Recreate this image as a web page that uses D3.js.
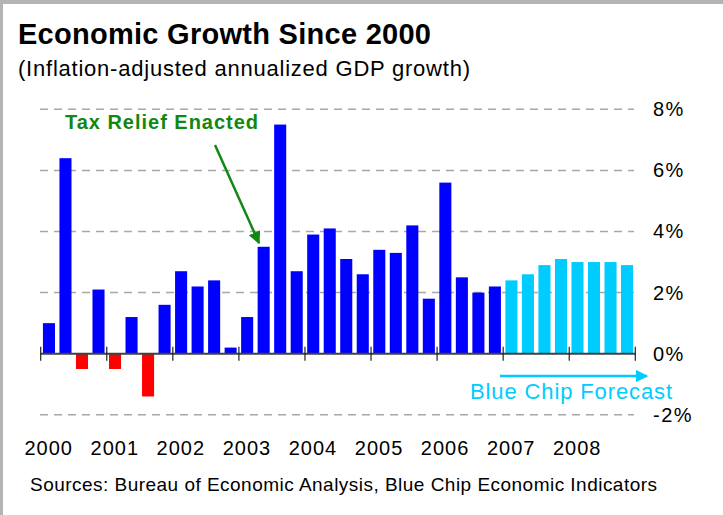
<!DOCTYPE html>
<html>
<head>
<meta charset="utf-8">
<script src="https://cdn.jsdelivr.net/npm/d3@7"></script>
<style>
  body { margin: 0; background: #fff; }
  svg { display: block; font-family: "Liberation Sans", Arial, sans-serif; }
</style>
</head>
<body>
<svg id="chart"></svg>
<script>
const years = [2000, 2001, 2002, 2003, 2004, 2005, 2006, 2007, 2008];
const quarters = years.flatMap(yr => ["Q1", "Q2", "Q3", "Q4"].map(q => yr + q));

// actual growth 2000Q1 - 2006Q4
const actual = [1.0, 6.4, -0.5, 2.1, -0.5, 1.2, -1.4, 1.6,
  2.7, 2.2, 2.4, 0.2, 1.2, 3.5, 7.5, 2.7,
  3.9, 4.1, 3.1, 2.6, 3.4, 3.3, 4.2, 1.8,
  5.6, 2.5, 2.0, 2.2];
// Blue Chip forecast 2007Q1 - 2008Q4
const forecast = [2.4, 2.6, 2.9, 3.1, 3.0, 3.0, 3.0, 2.9];

const yTicks = [-2, 0, 2, 4, 6, 8];

const W = 723, H = 515;
const svg = d3.select("#chart").attr("width", W).attr("height", H);

const bars = actual.map((v, i) => ({ q: quarters[i], v: v, fc: false }))
  .concat(forecast.map((v, i) => ({ q: quarters[actual.length + i], v: v, fc: true })));

const x = d3.scaleBand()
    .domain(quarters)
    .range([40.7, 635.3])
    .paddingInner(0.27)
    .paddingOuter(0.135);

const xYear = d3.scaleLinear()
    .domain([2000, 2009])
    .range([40.7, 635.3]);

const y = d3.scaleLinear()
    .domain([-2, 8])
    .range([414.8, 109.3]);

// frame
svg.append("rect").attr("x", 0).attr("y", 0).attr("width", W).attr("height", 4).attr("fill", "#b4b4b4");
svg.append("rect").attr("x", 0).attr("y", 0).attr("width", 3).attr("height", H).attr("fill", "#b4b4b4");

// titles
svg.append("text")
    .attr("x", 18).attr("y", 44)
    .attr("font-size", 29).attr("font-weight", "bold")
    .attr("textLength", 413)
    .text("Economic Growth Since 2000");

svg.append("text")
    .attr("x", 18).attr("y", 76)
    .attr("font-size", 22)
    .attr("textLength", 452)
    .text("(Inflation-adjusted annualized GDP growth)");

// grid
svg.append("g")
  .selectAll("line")
  .data(yTicks.filter(d => d !== 0))
  .enter().append("line")
    .attr("x1", 40).attr("x2", 634)
    .attr("y1", d => y(d)).attr("y2", d => y(d))
    .attr("stroke", "#a8a8a8")
    .attr("stroke-width", 1.5)
    .attr("stroke-dasharray", "8,6");

// bars
svg.append("g")
  .selectAll("rect")
  .data(bars)
  .enter().append("rect")
    .attr("x", d => x(d.q))
    .attr("width", x.bandwidth())
    .attr("y", d => y(Math.max(0, d.v)))
    .attr("height", d => Math.abs(y(d.v) - y(0)))
    .attr("fill", d => d.fc ? "#00ccff" : (d.v < 0 ? "#ff0000" : "#0000ff"));

// zero axis with ticks crossing it
svg.append("line")
    .attr("x1", xYear(2000)).attr("x2", xYear(2009))
    .attr("y1", y(0)).attr("y2", y(0))
    .attr("stroke", "#404040").attr("stroke-width", 2);

svg.append("g")
  .selectAll("line")
  .data(d3.range(2000, 2010))
  .enter().append("line")
    .attr("x1", d => xYear(d)).attr("x2", d => xYear(d))
    .attr("y1", y(0) - 7).attr("y2", y(0) + 7)
    .attr("stroke", "#222").attr("stroke-width", 1.2);

// y axis labels on the right
const yAxis = svg.append("g")
    .attr("transform", "translate(650,0)")
    .call(d3.axisRight(y).tickValues(yTicks).tickSize(0).tickPadding(3).tickFormat(d => d + "%"));
yAxis.select(".domain").remove();
yAxis.selectAll("text")
    .attr("font-size", 20)
    .attr("font-family", "Liberation Sans, Arial, sans-serif")
    .attr("letter-spacing", 1.5)
    .attr("fill", "#000");

// year labels
svg.append("g")
  .selectAll("text")
  .data(years)
  .enter().append("text")
    .attr("x", d => xYear(d) + 8)
    .attr("y", 455)
    .attr("text-anchor", "middle")
    .attr("font-size", 20)
    .attr("letter-spacing", 1)
    .text(d => d);

// sources
svg.append("text")
    .attr("x", 30).attr("y", 491)
    .attr("font-size", 19)
    .attr("textLength", 627)
    .text("Sources: Bureau of Economic Analysis, Blue Chip Economic Indicators");

// annotations
const defs = svg.append("defs");
[["arrowGreen", "#118811"], ["arrowCyan", "#00ccff"]].forEach(([id, c]) => {
  defs.append("marker")
      .attr("id", id)
      .attr("viewBox", "0 0 10 10")
      .attr("refX", 9).attr("refY", 5)
      .attr("markerWidth", 5).attr("markerHeight", 5)
      .attr("markerUnits", "strokeWidth")
      .attr("orient", "auto")
    .append("path")
      .attr("d", "M0,0L10,5L0,10Z")
      .attr("fill", c);
});

svg.append("text")
    .attr("x", 65).attr("y", 129)
    .attr("font-size", 20).attr("font-weight", "bold")
    .attr("fill", "#118811")
    .attr("textLength", 193)
    .text("Tax Relief Enacted");

svg.append("line")
    .attr("x1", 215).attr("y1", 145)
    .attr("x2", 259).attr("y2", 243)
    .attr("stroke", "#118811").attr("stroke-width", 2.5)
    .attr("marker-end", "url(#arrowGreen)");

svg.append("line")
    .attr("x1", 500).attr("y1", 376)
    .attr("x2", 647).attr("y2", 376)
    .attr("stroke", "#00ccff").attr("stroke-width", 2.5)
    .attr("marker-end", "url(#arrowCyan)");

svg.append("text")
    .attr("x", 470).attr("y", 399)
    .attr("font-size", 22)
    .attr("fill", "#00ccff")
    .attr("textLength", 202)
    .text("Blue Chip Forecast");
</script>
</body>
</html>
